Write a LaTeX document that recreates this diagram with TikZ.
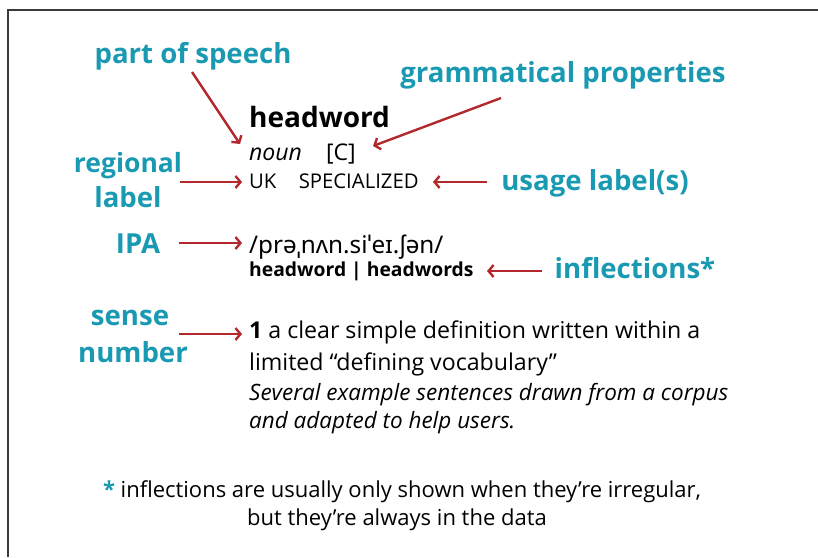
\documentclass[tikz,border=0pt]{standalone}
\usepackage{fontspec}
\setmainfont{Open Sans}
\newfontfamily\ipafont{Noto Sans}
\usetikzlibrary{arrows.meta}
\definecolor{lblue}{HTML}{1A9AB2}
\definecolor{ared}{HTML}{B3282D}
\definecolor{frame}{HTML}{3A3A3A}
\tikzset{
  lbl/.style={text=lblue, font=\bfseries\fontsize{27.6}{30}\selectfont, inner sep=0pt, anchor=base},
  body/.style={text=black, inner sep=0pt, anchor=base west},
  redarrow/.style={draw=ared, line width=2.4pt, -{Straight Barb[length=5pt,width=12pt]}},
}
\begin{document}
\begin{tikzpicture}[x=1pt,y=-1pt]
\useasboundingbox (0,0) rectangle (818,557);
\draw[frame, line width=1.6pt] (8,557) -- (8,10) -- (818,10);

% blue labels
\node[lbl] (pos) at (193,63) {part of speech};
\node[lbl] (gram) at (563,82) {grammatical properties};
\node[lbl, font=\bfseries\fontsize{26.5}{30}\selectfont] (reg1) at (128,172) {regional};
\node[lbl] (reg2) at (128,207) {label};
\node[lbl] (usage) at (595,190) {usage label(s)};
\node[lbl] (ipa) at (138,253) {IPA};
\node[lbl] (infl) at (635,278) {inflections*};
\node[lbl] (sense1) at (130,325) {sense};
\node[lbl] (sense2) at (133,362) {number};

% entry
\node[body, font=\bfseries\fontsize{28}{30}\selectfont] (head) at (249,127) {headword};
\node[body, font=\fontsize{23}{26}\selectfont] (noun) at (249,160) {\textit{noun}\hspace{1.05em}[C]};
\node[body, font=\fontsize{20.3}{24}\selectfont] (uk) at (249,188) {UK\hspace{1.1em}SPECIALIZED};
\node[body, font=\ipafont\fontsize{24.3}{26}\selectfont] (pron) at (249,253) {/prəˌnʌn.siˈeɪ.ʃən/};
\node[body, font=\bfseries\fontsize{19.3}{22}\selectfont] (forms) at (249,276) {headword | headwords};
\node[body, font=\fontsize{23.15}{26}\selectfont] (def1) at (249,338) {\textbf{1} a clear simple definition written within a};
\node[body, font=\fontsize{23.15}{26}\selectfont] (def2) at (249,370) {limited “defining vocabulary”};
\node[body, font=\itshape\fontsize{22.5}{26}\selectfont] (ex1) at (249,400) {Several example sentences drawn from a corpus};
\node[body, font=\itshape\fontsize{22.5}{26}\selectfont] (ex2) at (249,428) {and adapted to help users.};

% footnote
\node[inner sep=0pt, anchor=base, font=\fontsize{22}{24}\selectfont] (foot1) at (402,497) {\textcolor{lblue}{\bfseries *} inflections are usually only shown when they’re irregular,};
\node[inner sep=0pt, anchor=base, font=\fontsize{22}{24}\selectfont] (foot2) at (397,525) {but they’re always in the data};

% arrow ends
\coordinate (posS) at (192,72);
\coordinate (posE) at (240,144);
\coordinate (gramS) at (501,98);
\coordinate (gramE) at (373,146);
\coordinate (regS) at (180,182);
\coordinate (regE) at (242,182);
\coordinate (usS) at (487,182);
\coordinate (usE) at (433,182);
\coordinate (ipaS) at (179,243);
\coordinate (ipaE) at (242,243);
\coordinate (inS) at (542,271);
\coordinate (inE) at (487,271);
\coordinate (seS) at (179,334);
\coordinate (seE) at (242,334);

\draw[redarrow] (posS) -- (posE);
\draw[redarrow] (gramS) -- (gramE);
\draw[redarrow] (regS) -- (regE);
\draw[redarrow] (usS) -- (usE);
\draw[redarrow] (ipaS) -- (ipaE);
\draw[redarrow] (inS) -- (inE);
\draw[redarrow] (seS) -- (seE);
\end{tikzpicture}
\end{document}
